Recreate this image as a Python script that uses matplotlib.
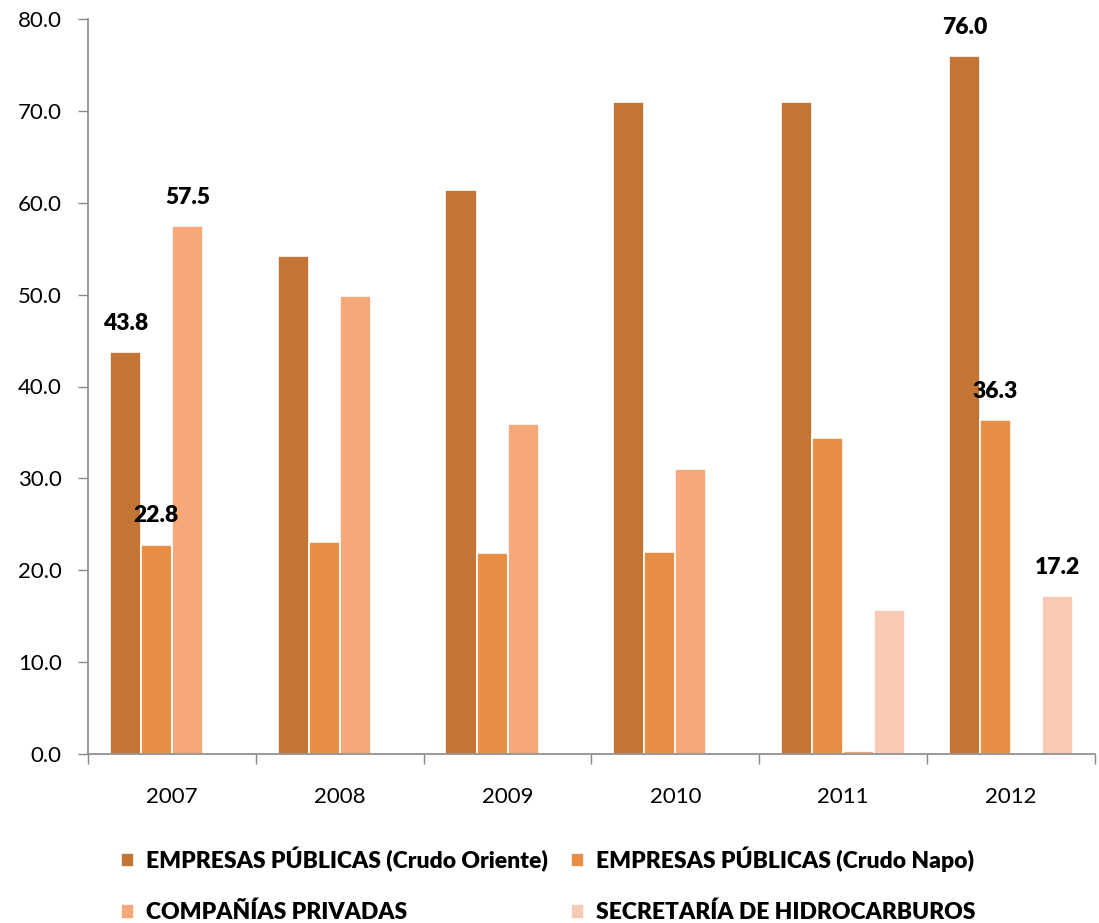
import matplotlib
matplotlib.use("Agg")
import matplotlib.pyplot as plt
import numpy as np

years = ["2007", "2008", "2009", "2010", "2011", "2012"]
series_names = ["EMPRESAS PÚBLICAS (Crudo Oriente)", "EMPRESAS PÚBLICAS (Crudo Napo)",
                "COMPAÑÍAS PRIVADAS", "SECRETARÍA DE HIDROCARBUROS"]
oriente = [43.8, 54.2, 61.4, 71.0, 71.0, 76.0]
napo = [22.8, 23.1, 21.9, 22.0, 34.4, 36.3]
privadas = [57.5, 49.8, 35.9, 31.0, 0.3, 0.0]
secretaria = [0.0, 0.0, 0.0, 0.0, 15.7, 17.2]
colors = ["#C27535", "#E88D44", "#F7A878", "#F8C9B3"]
# labelled points: (series index, year index)
labelled = [(0, 0), (1, 0), (2, 0), (0, 5), (1, 5), (3, 5)]

plt.rcParams['font.family'] = ['Lato', 'DejaVu Sans']

fig = plt.figure(figsize=(10.99, 9.23), dpi=100)
ax = fig.add_axes([88/1099, 169/923, 1007/1099, 735/923])

data = [oriente, napo, privadas, secretaria]
x = np.arange(len(years))
w = 0.185
handles = []
for i, (vals, c) in enumerate(zip(data, colors)):
    b = ax.bar(x + (i - 1.5) * w, vals, w, color=c, edgecolor="white", linewidth=1.2,
               label=series_names[i], zorder=2)
    handles.append(b)

for si, yi in labelled:
    v = data[si][yi]
    ax.annotate(f"{v:.1f}", (x[yi] + (si - 1.5) * w, v), xytext=(0, 13),
                textcoords="offset points", ha="center", va="bottom",
                fontsize=16.5, fontweight="heavy", color="black")

ax.set_xlim(-0.5, len(years) - 0.5)
ax.set_ylim(0, 80)
ax.set_yticks(np.arange(0, 81, 10))
ax.set_yticklabels([f"{v:.1f}" for v in np.arange(0, 81, 10)], fontsize=16)
ax.set_xticks(x)
ax.set_xticklabels(years, fontsize=16)
ax.set_xticks(np.arange(-0.5, len(years), 1), minor=True)
ax.tick_params(axis="x", which="major", length=0, pad=24)
ax.tick_params(axis="x", which="minor", length=7, color="#888888", width=1)
ax.tick_params(axis="y", length=7, color="#888888", width=1, pad=12)
for s in ["top", "right"]:
    ax.spines[s].set_visible(False)
for s in ["left", "bottom"]:
    ax.spines[s].set_color("#888888")
    ax.spines[s].set_linewidth(1.2)
    ax.spines[s].set_zorder(3)

order = [0, 2, 1, 3]
leg = fig.legend(handles=[handles[i] for i in order], labels=[series_names[i] for i in order],
                 ncol=2, loc="upper left",
                 bbox_to_anchor=(100/1099, 1 - 826/923), frameon=False,
                 prop={"size": 16.5, "weight": "heavy"}, handlelength=0.6, handleheight=0.6,
                 handletextpad=0.5, columnspacing=1.0, labelspacing=1.3)

fig.savefig("out.png", dpi=100)
